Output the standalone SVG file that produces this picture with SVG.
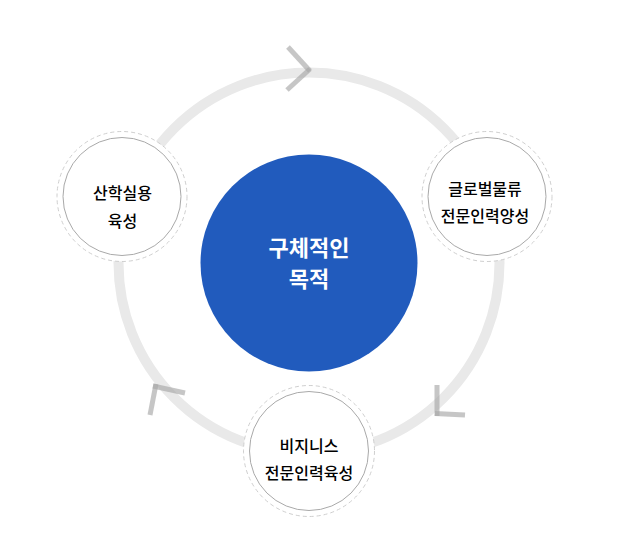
<svg xmlns="http://www.w3.org/2000/svg" width="617" height="543" viewBox="0 0 617 543">
  <style>
    .ring { fill: none; stroke: #e9e9e9; stroke-width: 10; }
    .arrow { fill: none; stroke: #a8a8a8; stroke-opacity: 0.65; stroke-width: 5; stroke-linecap: butt; }
    .outer { fill: #ffffff; stroke: #cfcfcf; stroke-width: 1; stroke-dasharray: 4 3; }
    .inner { fill: #ffffff; stroke: #a9a9a9; stroke-width: 1; }
    .label { font-family: "Noto Sans CJK KR", "Noto Sans", sans-serif; font-size: 16px; font-weight: 500; fill: #000000; text-anchor: middle; }
    .center { font-family: "Noto Sans CJK KR", "Noto Sans", sans-serif; font-size: 22px; font-weight: bold; fill: #ffffff; text-anchor: middle; }
  </style>
  <rect width="617" height="543" fill="#ffffff"/>
  <g id="connectors">
    <circle class="ring" cx="309" cy="263" r="190.5"/>
    <line class="arrow" x1="288" y1="47" x2="310" y2="71"/>
    <line class="arrow" x1="310" y1="69" x2="287" y2="90"/>
    <line class="arrow" x1="437" y1="385" x2="437" y2="416"/>
    <line class="arrow" x1="435" y1="413.5" x2="465" y2="415"/>
    <line class="arrow" x1="185" y1="393" x2="153" y2="386"/>
    <line class="arrow" x1="156" y1="384" x2="150" y2="415"/>
  </g>
  <g id="center">
    <circle cx="309" cy="263" r="108.5" fill="#215bbd"/>
    <text class="center" x="309" y="256">구체적인</text>
    <text class="center" x="309" y="287">목적</text>
  </g>
  <g id="node-left">
    <circle class="outer" cx="122" cy="196.5" r="65"/>
    <circle class="inner" cx="122" cy="196.5" r="59"/>
    <text class="label" x="122.5" y="199">산학실용</text>
    <text class="label" x="122.5" y="227">육성</text>
  </g>
  <g id="node-right">
    <circle class="outer" cx="487" cy="196.5" r="65"/>
    <circle class="inner" cx="487" cy="196.5" r="59"/>
    <text class="label" x="485" y="195">글로벌물류</text>
    <text class="label" x="485" y="222">전문인력양성</text>
  </g>
  <g id="node-bottom">
    <circle class="outer" cx="309" cy="451" r="65.5"/>
    <circle class="inner" cx="309" cy="451" r="59.5"/>
    <text class="label" x="309" y="452">비지니스</text>
    <text class="label" x="309" y="479">전문인력육성</text>
  </g>
</svg>
